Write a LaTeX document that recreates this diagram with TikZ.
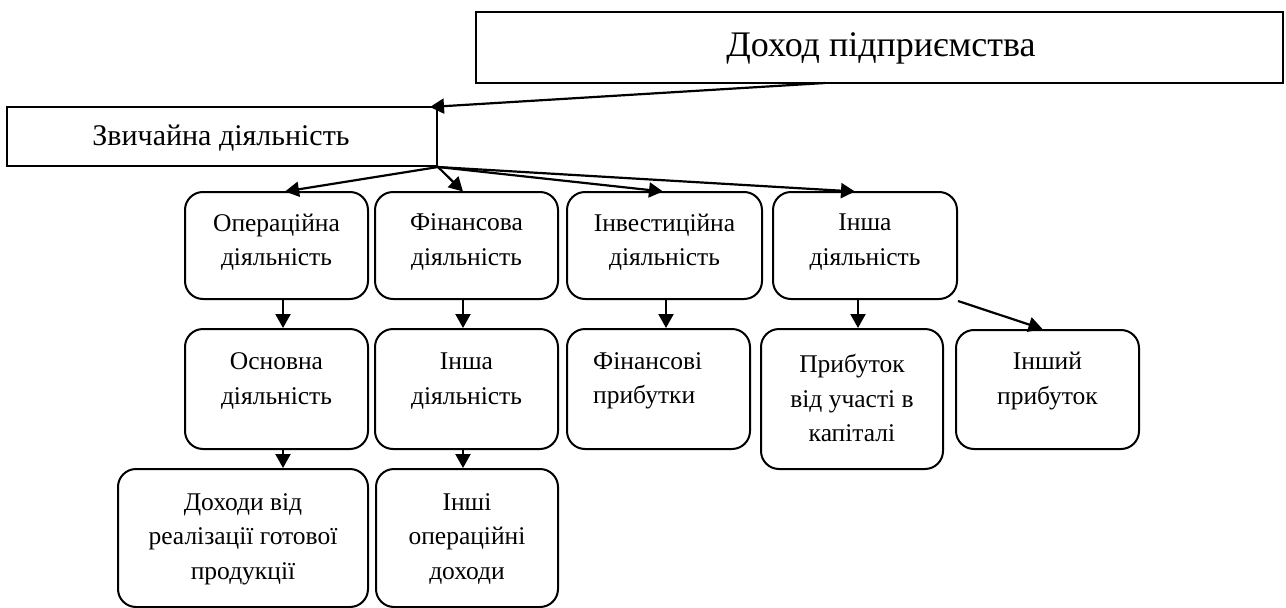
\documentclass[tikz,border=0pt]{standalone}
\usepackage{fontspec}
\setmainfont{Liberation Serif}
\usetikzlibrary{arrows.meta}
\begin{document}
\begin{tikzpicture}[x=1pt,y=-1pt,
  rbox/.style={draw, line width=2pt, rounded corners=18pt, inner sep=0pt},
  sbox/.style={draw, line width=2pt, inner sep=0pt},
  lbl/.style={font=\fontsize{25.5}{34.5}\selectfont, align=center, inner sep=0pt},
  midlbl/.style={font=\fontsize{30}{36}\selectfont, inner sep=0pt},
  toplbl/.style={font=\fontsize{36}{42}\selectfont, inner sep=0pt},
  arr/.style={line width=2.2pt, -{Triangle[length=14pt,width=15pt]}}]
\useasboundingbox (0,0) rectangle (1286,608);
% boxes
\node[sbox, minimum width=807pt, minimum height=71pt] (T) at (879.5,47.5) {};
\node[sbox, minimum width=430pt, minimum height=59pt] (L1) at (222,136.5) {};
\node[rbox, minimum width=183pt, minimum height=107pt] (A) at (276.5,245.5) {};
\node[rbox, minimum width=183pt, minimum height=107pt] (B) at (466.5,245.5) {};
\node[rbox, minimum width=195pt, minimum height=107pt] (C) at (664.5,245.5) {};
\node[rbox, minimum width=184pt, minimum height=107pt] (D) at (865,245.5) {};
\node[rbox, minimum width=183pt, minimum height=120pt] (E) at (276.5,389) {};
\node[rbox, minimum width=183pt, minimum height=120pt] (F) at (466.5,389) {};
\node[rbox, minimum width=183pt, minimum height=120pt] (G) at (658.5,389) {};
\node[rbox, minimum width=182pt, minimum height=140pt] (H) at (852,399) {};
\node[rbox, minimum width=183pt, minimum height=119pt] (I) at (1047.5,389.5) {};
\node[rbox, minimum width=250pt, minimum height=138pt] (J) at (243,538) {};
\node[rbox, minimum width=182pt, minimum height=138pt] (K) at (467,538) {};
% labels
\node[toplbl] (tT) at (881,48) {Доход підприємства};
\node[midlbl] (tL1) at (221,138) {Звичайна діяльність};
\node[lbl] (tA) at (276.5,242) {Операційна\\діяльність};
\node[lbl] (tB) at (466.5,242) {Фінансова\\діяльність};
\node[lbl] (tC) at (664.5,242) {Інвестиційна\\діяльність};
\node[lbl] (tD) at (865,242) {Інша\\діяльність};
\node[lbl] (tE) at (276.5,381) {Основна\\діяльність};
\node[lbl] (tF) at (466.5,381) {Інша\\діяльність};
\node[lbl, align=left, anchor=west] (tG) at (593,381) {Фінансові\\прибутки};
\node[lbl] (tH) at (852,398) {Прибуток\\від участі в\\капіталі};
\node[lbl] (tI) at (1047.5,381) {Інший\\прибуток};
\node[lbl] (tJ) at (243,539) {Доходи від\\реалізації готової\\продукції};
\node[lbl] (tK) at (467,539) {Інші\\операційні\\доходи};
% connector points
\coordinate (t1) at (825,83);
\coordinate (l1in) at (430,107);
\coordinate (ain) at (285,191.5);
\coordinate (bin) at (463,191.5);
\coordinate (cin) at (663,191.5);
\coordinate (din) at (855,191.5);
% connectors
\draw[arr] (t1) -- (l1in);
\draw[arr] (L1.south east) -- (ain);
\draw[arr] (L1.south east) -- (bin);
\draw[arr] (L1.south east) -- (cin);
\draw[arr] (L1.south east) -- (din);
\draw[arr] ([xshift=6.5pt]A.south) -- ([xshift=6.5pt]A.south |- E.north);
\draw[arr] ([xshift=-3.5pt]B.south) -- ([xshift=-3.5pt]B.south |- F.north);
\draw[arr] ([xshift=1.5pt]C.south) -- ([xshift=1.5pt]C.south |- G.north);
\draw[arr] ([xshift=-7pt]D.south) -- ([xshift=-7pt]D.south |- H.north);
\draw[arr] ([yshift=-1pt]D.south east) -- ([xshift=-5pt]I.north);
\draw[arr] ([xshift=6.5pt]E.south) -- ([xshift=6.5pt]E.south |- J.north);
\draw[arr] ([xshift=-3.5pt]F.south) -- ([xshift=-3.5pt]F.south |- K.north);
\end{tikzpicture}
\end{document}
